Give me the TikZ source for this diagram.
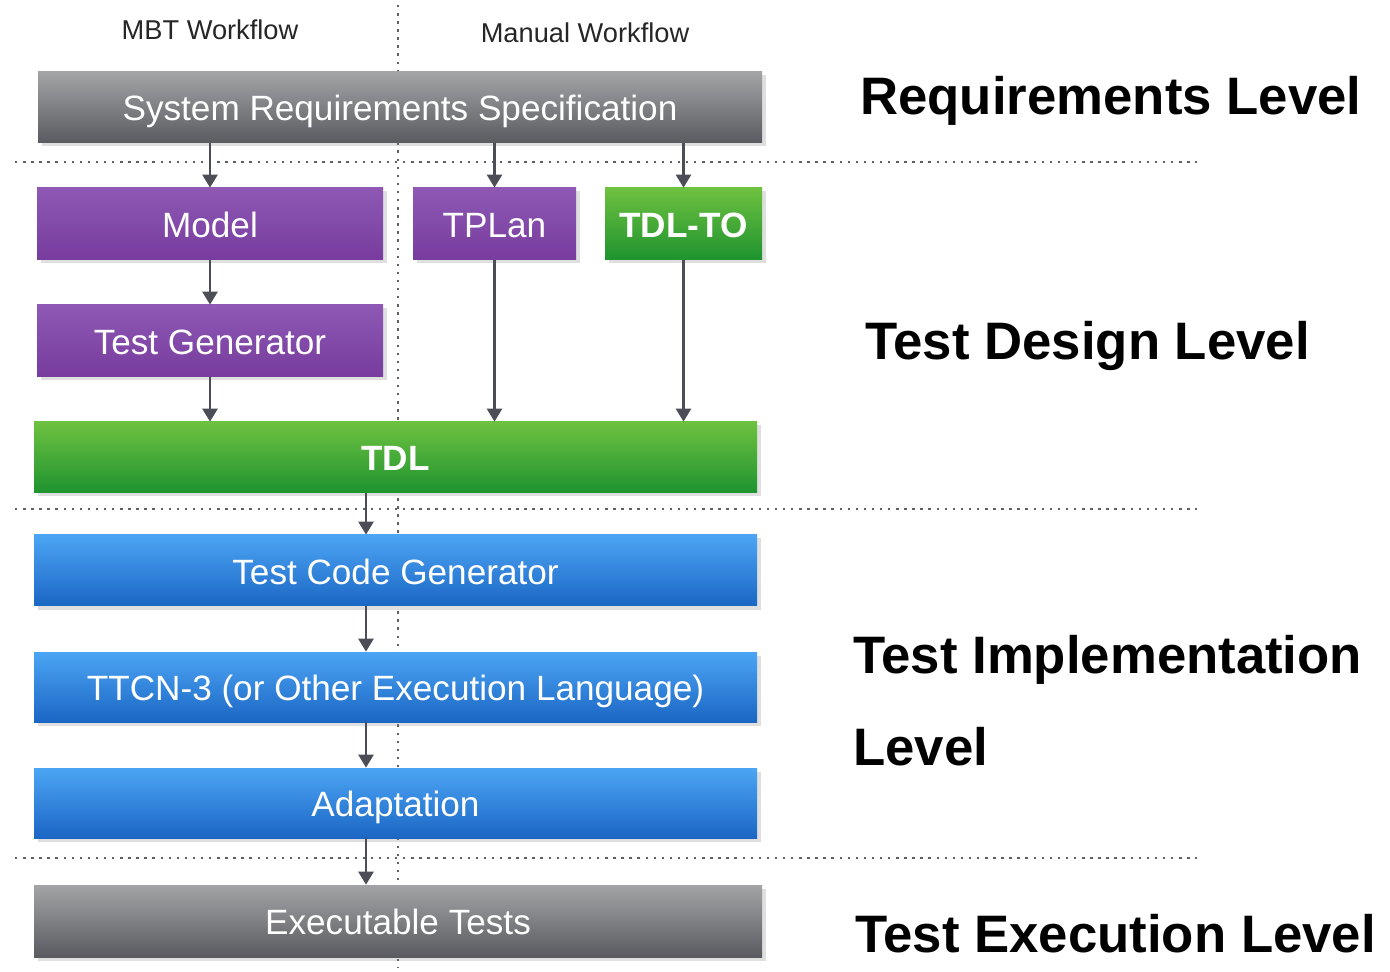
\documentclass[tikz,border=0pt]{standalone}
\usepackage{fontspec}
\setmainfont{Liberation Sans}
\usetikzlibrary{arrows.meta,shadows}

\definecolor{graytop}{HTML}{A2A4A6}
\definecolor{graybot}{HTML}{595B60}
\definecolor{purpletop}{HTML}{8E58B4}
\definecolor{purplebot}{HTML}{773C9E}
\definecolor{greentop}{HTML}{6EC140}
\definecolor{greenbot}{HTML}{1E932F}
\definecolor{bluetop}{HTML}{4CA5F4}
\definecolor{bluebot}{HTML}{1B66C4}
\definecolor{arrowgray}{HTML}{4B4E56}
\definecolor{dotgray}{HTML}{5E6068}

\tikzset{
	box/.style={rectangle, inner sep=0pt, text=white,
		text height=0.6cm, text depth=0.06cm,
		font=\fontsize{20}{24}\selectfont,
		drop shadow={shadow xshift=0.07cm, shadow yshift=-0.07cm, opacity=0.25}},
	graybox/.style={box, top color=graytop, bottom color=graybot},
	purplebox/.style={box, top color=purpletop, bottom color=purplebot},
	greenbox/.style={box, top color=greentop, bottom color=greenbot,
		font=\fontsize{20}{24}\selectfont\bfseries},
	bluebox/.style={box, top color=bluetop, bottom color=bluebot},
	flow/.style={draw=arrowgray, line width=1.5pt,
		-{Triangle[width=0.3cm, length=0.26cm]}},
	sepline/.style={draw=dotgray, line width=1.5pt, dash pattern=on 1.4pt off 3.2pt},
	level/.style={anchor=base west, inner sep=0pt,
		font=\fontsize{30}{36}\selectfont\bfseries},
	workflow/.style={anchor=base, inner sep=0pt,
		font=\fontsize{15.5}{18}\selectfont, text=black!85}
}

\begin{document}
\begin{tikzpicture}

	\useasboundingbox (0,0) rectangle (27.8,-19.44);

	% separators
	\draw[sepline] (0.3,-3.24) -- (23.94,-3.24);
	\draw[sepline] (0.3,-10.18) -- (23.94,-10.18);
	\draw[sepline] (0.3,-17.16) -- (23.94,-17.16);
	\draw[sepline] (7.96,-0.1) -- (7.96,-19.36);

	% workflow headers
	\node[workflow] (mbt) at (4.2,-0.8) {MBT Workflow};
	\node[workflow] (manual) at (11.7,-0.86) {Manual Workflow};

	% requirements
	\node[graybox, minimum width=14.48cm, minimum height=1.42cm] (srs) at (8.0,-2.15)
		{System Requirements Specification};

	% test design
	\node[purplebox, minimum width=6.92cm, minimum height=1.44cm] (model) at (4.2,-4.48) {Model};
	\node[purplebox, minimum width=3.26cm, minimum height=1.44cm] (tplan) at (9.89,-4.48) {TPLan};
	\node[greenbox, minimum width=3.14cm, minimum height=1.44cm] (tdlto) at (13.67,-4.48) {TDL-TO};
	\node[purplebox, minimum width=6.92cm, minimum height=1.44cm] (testgen) at (4.2,-6.82) {Test Generator};
	\node[greenbox, minimum width=14.46cm, minimum height=1.42cm] (tdl) at (7.91,-9.15) {TDL};

	% test implementation
	\node[bluebox, minimum width=14.46cm, minimum height=1.42cm] (tcg) at (7.91,-11.41) {Test Code Generator};
	\node[bluebox, minimum width=14.46cm, minimum height=1.40cm] (ttcn) at (7.91,-13.74)
		{TTCN-3 (or Other Execution Language)};
	\node[bluebox, minimum width=14.46cm, minimum height=1.40cm] (adapt) at (7.91,-16.06) {Adaptation};

	% test execution
	\node[graybox, minimum width=14.56cm, minimum height=1.44cm] (exec) at (7.96,-18.42) {Executable Tests};

	% levels
	\node[level] (reqlevel) at (17.2,-2.3) {Requirements Level};
	\node[level] (designlevel) at (17.3,-7.2) {Test Design Level};
	\node[level] (impllevel) at (17.06,-13.46) {Test Implementation};
	\node[level] (impllevel2) at (17.06,-15.3) {Level};
	\node[level] (execlevel) at (17.1,-19.04) {Test Execution Level};

	% arrows
	\coordinate (spine) at (7.32,0);
	\draw[flow] (srs.south -| model.north) -- (model.north);
	\draw[flow] (srs.south -| tplan.north) -- (tplan.north);
	\draw[flow] (srs.south -| tdlto.north) -- (tdlto.north);
	\draw[flow] (model) -- (testgen);
	\draw[flow] (testgen.south) -- (testgen.south |- tdl.north);
	\draw[flow] (tplan.south) -- (tplan.south |- tdl.north);
	\draw[flow] (tdlto.south) -- (tdlto.south |- tdl.north);
	\foreach \a/\b in {tdl/tcg, tcg/ttcn, ttcn/adapt, adapt/exec}
		\draw[flow] (\a.south -| spine) -- (\b.north -| spine);

\end{tikzpicture}
\end{document}
